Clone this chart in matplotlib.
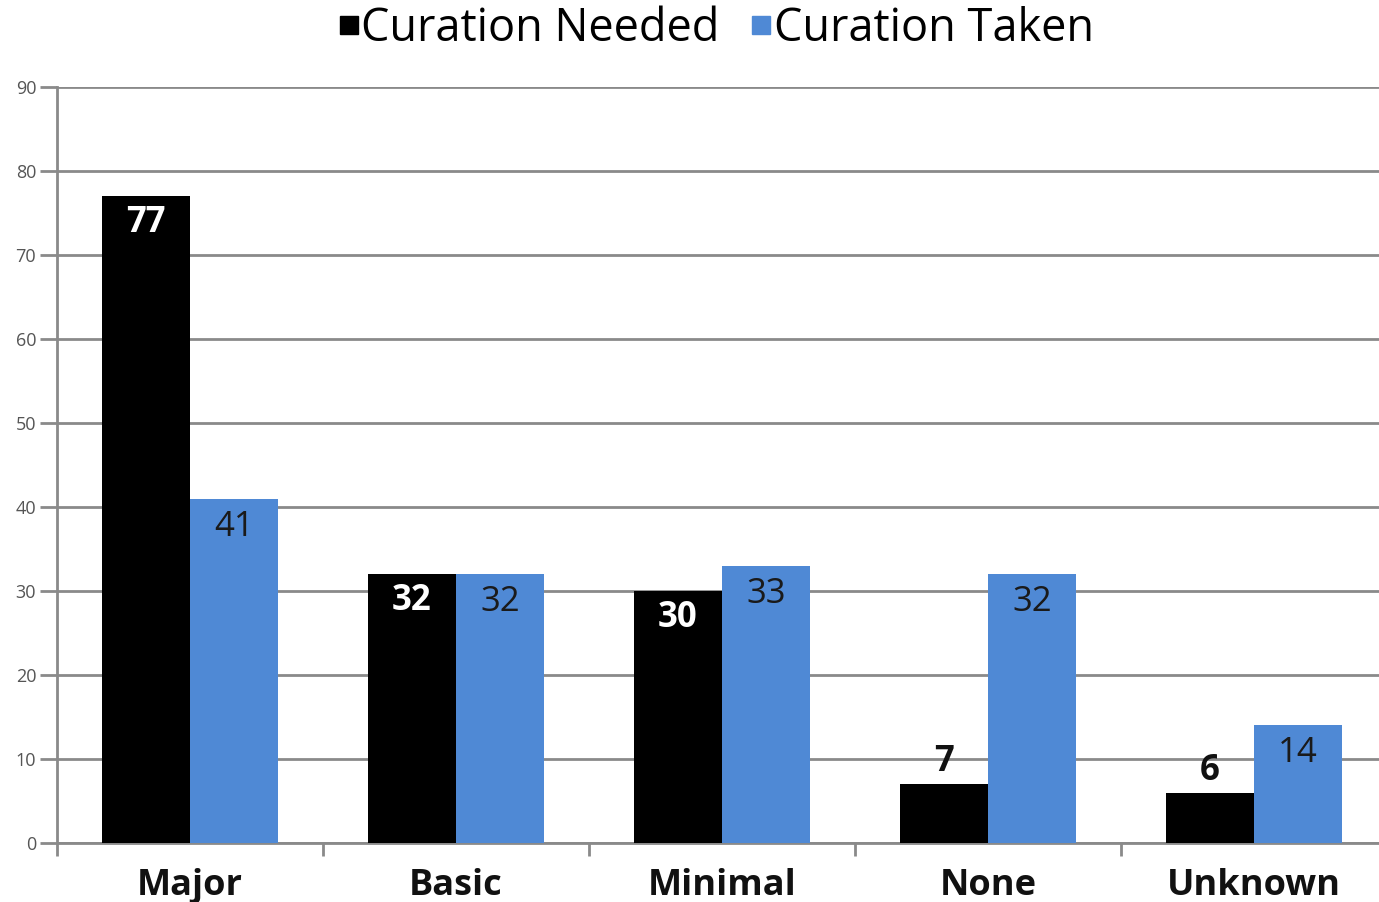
import matplotlib
matplotlib.use("Agg")
import matplotlib.pyplot as plt
from matplotlib.lines import Line2D
import numpy as np

plt.rcParams['font.family'] = ['Open Sans', 'DejaVu Sans']

categories = ["Major", "Basic", "Minimal", "None", "Unknown"]
needed = [77, 32, 30, 7, 6]
taken = [41, 32, 33, 32, 14]
series_names = ["Curation Needed", "Curation Taken"]
yticks = [0, 10, 20, 30, 40, 50, 60, 70, 80, 90]

black = "#000000"
blue = "#4F89D5"
grid_c = "#8a8a8a"

W, H = 1379, 902
fig = plt.figure(figsize=(W/100, H/100), dpi=100)
ax = fig.add_axes([57/W, 1-843/H, (5*266)/W, (843-87)/H])

x = np.arange(len(categories))
w = 0.332
b1 = ax.bar(x - w/2, needed, w, color=black, zorder=3)
b2 = ax.bar(x + w/2, taken, w, color=blue, zorder=3)

ax.set_xlim(-0.5, len(categories) - 0.5)
ax.set_ylim(0, 90)
ax.set_yticks(yticks)
ax.set_yticklabels([str(t) for t in yticks], fontsize=13, color="#555555")
ax.yaxis.grid(True, color=grid_c, linewidth=2, zorder=0)
ax.set_axisbelow(True)

for s in ["top", "right"]:
    ax.spines[s].set_visible(False)
ax.spines["left"].set_color(grid_c)
ax.spines["left"].set_linewidth(2)
ax.spines["bottom"].set_color(grid_c)
ax.spines["bottom"].set_linewidth(2)

ax.tick_params(axis="y", length=12, width=2, color=grid_c, pad=3)
ax.set_xticks(x)
ax.set_xticklabels(categories, fontsize=26, fontweight="bold", color="#111111")
ax.tick_params(axis="x", length=0, pad=18)
ax.set_xticks(np.arange(len(categories) + 1) - 0.5, minor=True)
ax.tick_params(axis="x", which="minor", length=9, width=2, color=grid_c)

for rect, v in zip(b1, needed):
    cx = rect.get_x() + rect.get_width() / 2
    if v >= 20:
        ax.annotate(str(v), (cx, v), xytext=(0, -27), textcoords="offset pixels",
                    ha="center", va="center", fontsize=25, fontweight="bold", color="white", zorder=5)
    else:
        ax.annotate(str(v), (cx, v), xytext=(0, 22), textcoords="offset pixels",
                    ha="center", va="center", fontsize=25, fontweight="bold", color="#111111", zorder=5)
for rect, v in zip(b2, taken):
    cx = rect.get_x() + rect.get_width() / 2
    ax.annotate(str(v), (cx, v), xytext=(0, -28), textcoords="offset pixels",
                ha="center", va="center", fontsize=25, color="#1a1a1a", zorder=5)

handles = [Line2D([], [], marker="s", linestyle="none", markersize=13, color=black),
           Line2D([], [], marker="s", linestyle="none", markersize=13, color=blue)]
fig.legend(handles, series_names, loc="center", bbox_to_anchor=(716/W, 1-29/H),
           ncol=2, frameon=False, fontsize=32.5, handlelength=0.45, handletextpad=0.05,
           columnspacing=0.7, borderpad=0)

fig.savefig("out.png", dpi=100)
